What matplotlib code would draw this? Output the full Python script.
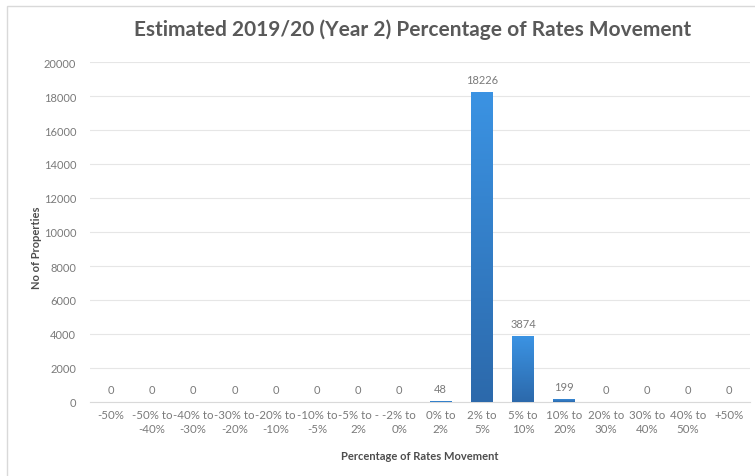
import numpy as np
import matplotlib.pyplot as plt
from matplotlib.patches import Rectangle

# rates movement bands and property counts
bands = ['-50%', '-50% to\n-40%', '-40% to\n-30%', '-30% to\n-20%', '-20% to\n-10%',
         '-10% to\n-5%', '-5% to -\n2%', '-2% to\n0%', '0% to\n2%', '2% to\n5%',
         '5% to\n10%', '10% to\n20%', '20% to\n30%', '30% to\n40%', '40% to\n50%', '+50%']
counts = [0, 0, 0, 0, 0, 0, 0, 0, 48, 18226, 3874, 199, 0, 0, 0, 0]
yticks = list(range(0, 20001, 2000))

plt.rcParams['font.family'] = ['Lato', 'DejaVu Sans']
txt = '#7a7a7a'

fig = plt.figure(figsize=(7.55, 4.77), dpi=100)
fig.patches.append(Rectangle((7/755, -0.05), 1.0, 1 - 7/477 + 0.05, transform=fig.transFigure,
                             fill=False, edgecolor='#d9d9d9', linewidth=1.0))
ax = fig.add_axes([90/755, 74/477, 660/755, 340/477])

x = np.arange(len(bands))
bars = ax.bar(x, counts, width=0.53, color='none', edgecolor='none', zorder=3)

# vertical blue gradient inside each bar
grad = np.linspace(0, 1, 256).reshape(-1, 1)
cmap = plt.matplotlib.colors.LinearSegmentedColormap.from_list('b', ['#2c69ab', '#3b93e3'])
for b, v in zip(bars, counts):
    if v <= 0:
        continue
    x0 = b.get_x()
    w = b.get_width()
    im = ax.imshow(grad, extent=(x0, x0 + w, 0, max(v, 60)), origin='lower', aspect='auto',
                   cmap=cmap, zorder=3)
    im.set_clip_path(b)
    b.set_height(max(v, 60))

for xi, v in zip(x, counts):
    ax.annotate(str(v), (xi, v), xytext=(0, 5), textcoords='offset points',
                ha='center', va='bottom', fontsize=8, color=txt)

ax.set_xlim(-0.5, len(bands) - 0.5)
ax.set_ylim(0, 20000)
ax.set_yticks(yticks)
ax.set_xticks(x)
ax.set_xticklabels(bands, fontsize=8.3, color=txt, linespacing=1.35)
ax.tick_params(axis='y', labelsize=8, labelcolor=txt, length=0, pad=10)
ax.tick_params(axis='x', length=0, pad=5)
ax.grid(axis='y', color='#e6e6e6', linewidth=0.8, zorder=0)
ax.set_axisbelow(True)
for s in ['top', 'right', 'left']:
    ax.spines[s].set_visible(False)
ax.spines['bottom'].set_color('#d9d9d9')

ax.set_xlabel('Percentage of Rates Movement', fontsize=8, color='#4d4d4d',
              fontweight='bold')
ax.xaxis.set_label_coords(0.5, -0.14)
ax.set_ylabel('No of Properties', fontsize=8, color='#4d4d4d', fontweight='bold')
ax.yaxis.set_label_coords(-0.072, 0.456)
fig.text(413/755, 1 - 30/477, 'Estimated 2019/20 (Year 2) Percentage of Rates Movement',
         ha='center', va='center', fontsize=15, color='#595959', fontweight='bold')

fig.savefig('out.png', dpi=100)
